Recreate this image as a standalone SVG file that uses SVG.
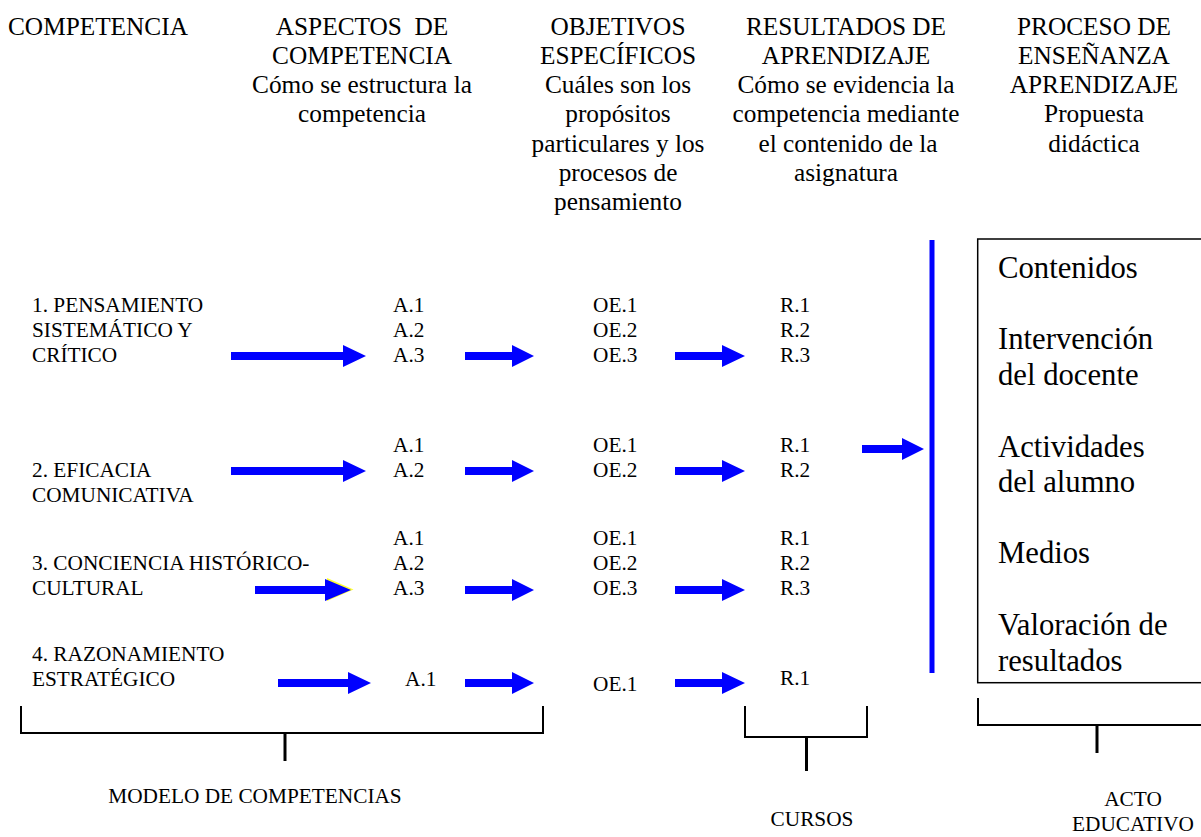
<svg xmlns="http://www.w3.org/2000/svg" width="1201" height="837" viewBox="0 0 1201 837">
<style>
text{font-family:"Liberation Serif","Times New Roman",serif;fill:#000}
.h{font-size:25.3px;text-anchor:middle}
.r{font-size:21.3px}
.b{font-size:30.7px}
.c{font-size:21.3px;text-anchor:middle}
.arr{fill:#0000FF}
.br{fill:none;stroke:#000;stroke-width:2}
.st{stroke:#000;stroke-width:3}
</style>
<rect width="1201" height="837" fill="#fff"/>
<g id="headers">
<text x="8" y="35" style="font-size:25.3px">COMPETENCIA</text>
<text class="h" xml:space="preserve"><tspan x="362" y="35">ASPECTOS  DE</tspan><tspan x="362" y="64">COMPETENCIA</tspan><tspan x="362" y="93">Cómo se estructura la</tspan><tspan x="362" y="122">competencia</tspan></text>
<text class="h"><tspan x="618" y="35">OBJETIVOS</tspan><tspan x="618" y="64">ESPECÍFICOS</tspan><tspan x="618" y="93">Cuáles son los</tspan><tspan x="618" y="122">propósitos</tspan><tspan x="618" y="152">particulares y los</tspan><tspan x="618" y="181">procesos de</tspan><tspan x="618" y="210">pensamiento</tspan></text>
<text class="h"><tspan x="846" y="35">RESULTADOS DE</tspan><tspan x="846" y="64">APRENDIZAJE</tspan><tspan x="846" y="93">Cómo se evidencia la</tspan><tspan x="846" y="122">competencia mediante</tspan><tspan x="848" y="152">el contenido de la</tspan><tspan x="846" y="181">asignatura</tspan></text>
<text class="h"><tspan x="1094" y="35">PROCESO DE</tspan><tspan x="1094" y="64">ENSEÑANZA</tspan><tspan x="1094" y="93">APRENDIZAJE</tspan><tspan x="1094" y="122">Propuesta</tspan><tspan x="1094" y="152">didáctica</tspan></text>
</g>
<g id="row1">
<text class="r"><tspan x="32" y="312">1. PENSAMIENTO</tspan><tspan x="32" y="337">SISTEMÁTICO Y</tspan><tspan x="32" y="362">CRÍTICO</tspan></text>
<text class="r"><tspan x="393" y="312">A.1</tspan><tspan x="393" y="337">A.2</tspan><tspan x="393" y="362">A.3</tspan></text>
<text class="r"><tspan x="593" y="312">OE.1</tspan><tspan x="593" y="337">OE.2</tspan><tspan x="593" y="362">OE.3</tspan></text>
<text class="r"><tspan x="780" y="312">R.1</tspan><tspan x="780" y="337">R.2</tspan><tspan x="780" y="362">R.3</tspan></text>
</g>
<g id="row2">
<text class="r"><tspan x="32" y="477">2. EFICACIA</tspan><tspan x="32" y="502">COMUNICATIVA</tspan></text>
<text class="r"><tspan x="393" y="452">A.1</tspan><tspan x="393" y="477">A.2</tspan></text>
<text class="r"><tspan x="593" y="452">OE.1</tspan><tspan x="593" y="477">OE.2</tspan></text>
<text class="r"><tspan x="780" y="452">R.1</tspan><tspan x="780" y="477">R.2</tspan></text>
</g>
<g id="row3">
<text class="r"><tspan x="32" y="570">3. CONCIENCIA HISTÓRICO-</tspan><tspan x="32" y="595">CULTURAL</tspan></text>
<text class="r"><tspan x="393" y="545">A.1</tspan><tspan x="393" y="570">A.2</tspan><tspan x="393" y="595">A.3</tspan></text>
<text class="r"><tspan x="593" y="545">OE.1</tspan><tspan x="593" y="570">OE.2</tspan><tspan x="593" y="595">OE.3</tspan></text>
<text class="r"><tspan x="780" y="545">R.1</tspan><tspan x="780" y="570">R.2</tspan><tspan x="780" y="595">R.3</tspan></text>
</g>
<g id="row4">
<text class="r"><tspan x="32" y="661">4. RAZONAMIENTO</tspan><tspan x="32" y="686">ESTRATÉGICO</tspan></text>
<text class="r" x="405" y="686">A.1</text>
<text class="r" x="593" y="691">OE.1</text>
<text class="r" x="780" y="685">R.1</text>
</g>
<g id="proceso">
<rect x="977.7" y="239" width="240" height="443.7" fill="none" stroke="#000" stroke-width="1.5"/>
<text class="b"><tspan x="998" y="278">Contenidos</tspan><tspan x="998" y="349">Intervención</tspan><tspan x="998" y="385">del docente</tspan><tspan x="998" y="457">Actividades</tspan><tspan x="998" y="492">del alumno</tspan><tspan x="998" y="563">Medios</tspan><tspan x="998" y="635">Valoración de</tspan><tspan x="998" y="671">resultados</tspan></text>
</g>
<g id="connectors">
<rect x="929.5" y="240" width="5" height="433" fill="#0000FF"/>
<polygon class="arr" points="862,445 902,445 902,438 924,449 902,460 902,453 862,453"/>
<polygon class="arr" points="231,352 343,352 343,345 366,356 343,367 343,360 231,360"/>
<polygon class="arr" points="465,352 512,352 512,345 534,356 512,367 512,360 465,360"/>
<polygon class="arr" points="675,352 722,352 722,345 745,356 722,367 722,360 675,360"/>
<polygon class="arr" points="231,467 343,467 343,460 366,471 343,482 343,475 231,475"/>
<polygon class="arr" points="465,467 512,467 512,460 534,471 512,482 512,475 465,475"/>
<polygon class="arr" points="675,467 722,467 722,460 745,471 722,482 722,475 675,475"/>
<polygon points="327,578 353.5,589.5 327,601" fill="#FFFF33"/>
<polygon class="arr" points="255,586 325,586 325,579 351,590 325,601 325,594 255,594"/>
<polygon class="arr" points="465,586 512,586 512,579 534,590 512,601 512,594 465,594"/>
<polygon class="arr" points="675,586 722,586 722,579 745,590 722,601 722,594 675,594"/>
<polygon class="arr" points="278,679 348,679 348,672 371,683 348,694 348,687 278,687"/>
<polygon class="arr" points="465,679 512,679 512,672 534,683 512,694 512,687 465,687"/>
<polygon class="arr" points="675,679 722,679 722,672 745,683 722,694 722,687 675,687"/>
</g>
<g id="brackets">
<polyline class="br" points="21,706 21,733 543,733 543,706"/>
<line class="st" x1="285" y1="733" x2="285" y2="761"/>
<polyline class="br" points="745,706 745,737 867,737 867,706"/>
<line class="st" x1="806.5" y1="737" x2="806.5" y2="771"/>
<polyline class="br" points="978,698 978,725 1201,725"/>
<line class="st" x1="1097" y1="725" x2="1097" y2="753"/>
</g>
<g id="labels">
<text class="c" x="255" y="803">MODELO DE COMPETENCIAS</text>
<text class="c" x="812" y="826">CURSOS</text>
<text class="c"><tspan x="1133" y="806">ACTO</tspan><tspan x="1133" y="831">EDUCATIVO</tspan></text>
</g>
</svg>
